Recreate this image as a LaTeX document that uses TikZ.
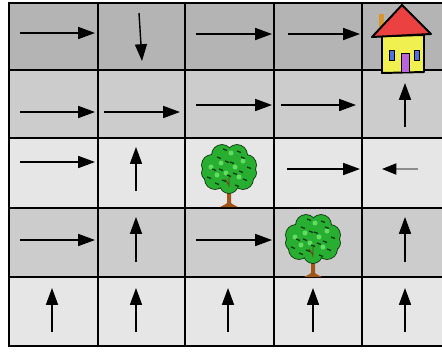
\documentclass[tikz,border=0pt]{standalone}
\usepackage{xcolor}
\usepackage{tikz}
\usetikzlibrary{arrows.meta}

\definecolor{rowdark}{RGB}{180,180,180}
\definecolor{rowmid}{RGB}{204,204,204}
\definecolor{rowlight}{RGB}{230,230,230}
\definecolor{leafgreen}{RGB}{40,175,50}
\definecolor{leaflight}{RGB}{100,220,100}
\definecolor{leafdark}{RGB}{15,55,15}
\definecolor{bark}{RGB}{160,85,25}
\definecolor{roofred}{RGB}{235,65,65}
\definecolor{wallyellow}{RGB}{240,240,80}
\definecolor{chimney}{RGB}{215,150,50}
\definecolor{windowblue}{RGB}{80,110,230}
\definecolor{doorpurple}{RGB}{185,100,220}

\tikzset{
  tree/.pic={
    % trunk and roots
    \fill[bark] (-9,0) .. controls (-3,-3) .. (-2,-4) -- (-2,-20) -- (2,-20) -- (2,-4)
      .. controls (3,-3) .. (9,0) -- cycle;
    \draw[bark,line width=0.8pt] (0,-14) -- (-6,-22) (0,-16) -- (6,-23);
    % crown
    \foreach \cx/\cy/\r in {-14/-28/10,0/-23/9,14/-28/10,-17/-42/10,17/-42/10,
        -7/-52/10,8/-52/10,0/-38/12,-20/-34/7,20/-34/7}
      \filldraw[fill=leafgreen,draw=leafdark,line width=1.2pt] (\cx,\cy) circle (\r);
    \foreach \cx/\cy/\r in {-14/-28/10,0/-23/9,14/-28/10,-17/-42/10,17/-42/10,
        -7/-52/10,8/-52/10,0/-38/12,-20/-34/7,20/-34/7}
      \fill[leafgreen] (\cx,\cy) circle (\r);
    \foreach \cx/\cy in {-8/-44,6/-40,-12/-32,10/-30,2/-54,-3/-34,14/-46,-18/-40}
      \fill[leaflight] (\cx,\cy) circle (2.5);
    \foreach \cx/\cy in {-15/-38,3/-45,12/-36,-5/-27,-10/-50,16/-28,0/-32,
        -20/-30,20/-40,-4/-58,10/-56,-12/-24,8/-22,6/-34,-8/-38,14/-50,-2/-46}
      \draw[leafdark,line width=0.9pt] (\cx-2,\cy) -- (\cx+2,\cy+1.5);
    \draw[bark!70!black,line width=0.6pt] (0,-20) -- (0,-30) (0,-22) -- (-4,-28);
  }
}

\begin{document}
\begin{tikzpicture}[x=0.025cm,y=-0.025cm,
  gridline/.style={line width=2.1pt,line cap=rect},
  move/.style={line width=1pt,-{Triangle[length=4.2mm,width=3mm]}},
  faint/.style={move,draw=black!45,-{Triangle[length=3.6mm,width=2.8mm,color=black]}},
  outline/.style={draw=black,line width=1.4pt,line join=round}]

  \useasboundingbox (0,0) rectangle (442,351);
  \clip (0,0) rectangle (442,351);

  % row shading
  \fill[rowdark]  (9,3)   rectangle (460,70);
  \fill[rowmid]   (9,70)  rectangle (460,138);
  \fill[rowlight] (9,138) rectangle (460,208);
  \fill[rowmid]   (9,208) rectangle (460,277);
  \fill[rowlight] (9,277) rectangle (460,346);

  % grid
  \foreach \x in {9,98,185,274,362}
    \draw[gridline] (\x,3) -- (\x,346);
  \foreach \y in {3,70,138,208,277,346}
    \draw[gridline] (9,\y) -- (460,\y);

  % policy arrows
  \foreach \xa/\xb/\y in {20/95/33,196/272/34,288/360/34,20/95/112,104/180/112,
      196/272/105,281/356/105,20/95/162,287/360/169,20/95/240,196/272/240}
    \draw[move] (\xa,\y) -- (\xb,\y);
  \foreach \x/\ya/\yb in {405/127/83,136/191/147,136/262/217,405/262/217,
      52/332/288,136/332/288,228/332/288,313/332/288,405/332/288}
    \draw[move] (\x,\ya) -- (\x,\yb);
  \draw[move] (139,13) -- (142,61);
  \draw[faint] (418,169) -- (382,169);

  % obstacles
  \pic at (229,207) {tree};
  \pic at (313,277) {tree};

  % goal
  \fill[chimney] (379,14) rectangle (384,28);
  \draw[outline,fill=wallyellow] (382,36) -- (382,73) -- (424,72) -- (424,35) -- cycle;
  \draw[outline,fill=roofred] (372,37) -- (402,5) -- (431,34) -- cycle;
  \draw[black,fill=windowblue,line width=0.6pt] (389,50) rectangle (394,60);
  \draw[black,fill=windowblue,line width=0.6pt] (414,50) rectangle (419,60);
  \draw[black,fill=doorpurple,line width=0.6pt] (401,53) rectangle (409,72);
\end{tikzpicture}
\end{document}
